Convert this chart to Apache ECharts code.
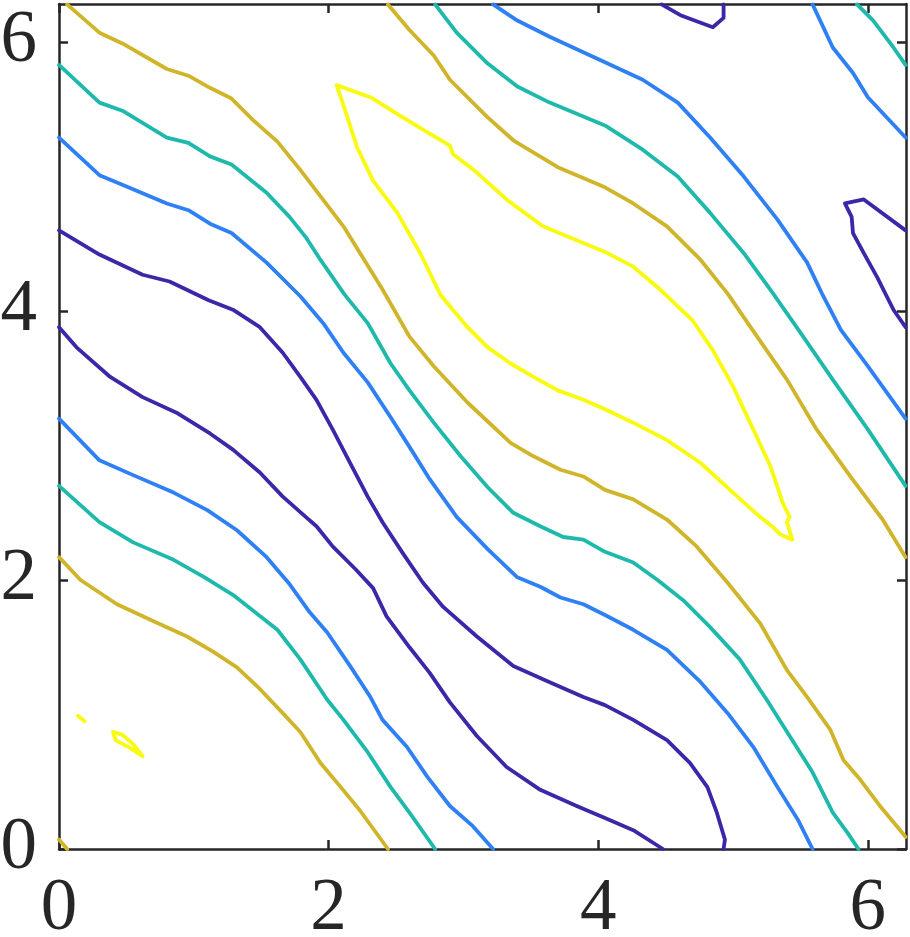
<!DOCTYPE html>
<html>
<head>
<meta charset="utf-8">
<script src="https://cdn.jsdelivr.net/npm/echarts@6/dist/echarts.min.js"></script>
<style>html,body{margin:0;padding:0;background:#fff;}#c{width:910px;height:937px;}</style>
</head>
<body>
<div id="c"></div>
<script>
// Axis ticks
var xTicks = [0, 2, 4, 6];
var yTicks = [0, 2, 4, 6];
var axisMax = 2 * Math.PI;

// Contour level colours (parula, low -> high)
var cLow = '#3d26a8', cBlue = '#2e80f4', cTeal = '#1fb9ac', cGold = '#d0b52b', cYellow = '#f9fb0e';

// Gold level
var gold1 = [[0.06,6.28],[0.30,6.07],[0.47,5.99],[0.80,5.80],[0.96,5.75],[1.12,5.66],[1.28,5.58],[1.44,5.42],[1.62,5.26],[1.79,5.05],[2.11,4.63],[2.40,4.16],[2.60,3.81],[2.78,3.59],[3.03,3.32],[3.35,3.02],[3.52,2.92],[3.72,2.82],[3.89,2.77],[4.05,2.67],[4.26,2.60],[4.51,2.45],[4.73,2.25],[4.96,1.98],[5.20,1.68],[5.40,1.33],[5.55,1.13],[5.72,0.89],[5.82,0.66],[5.94,0.52],[6.09,0.32],[6.24,0.14],[6.28,0.09]];
var gold1b = [[0,0.07],[0.06,0]];
var gold2 = [[2.44,6.28],[2.60,6.09],[2.78,5.90],[2.90,5.72],[3.18,5.44],[3.37,5.27],[3.70,5.07],[4.05,4.92],[4.26,4.80],[4.51,4.63],[4.76,4.38],[4.96,4.13],[5.13,3.88],[5.40,3.49],[5.62,3.12],[5.87,2.77],[6.11,2.45],[6.28,2.17]];
var gold3 = [[0,2.17],[0.16,2.00],[0.43,1.82],[0.73,1.68],[0.95,1.58],[1.14,1.47],[1.32,1.35],[1.49,1.19],[1.66,1.01],[1.79,0.87],[1.94,0.64],[2.09,0.46],[2.23,0.29],[2.44,0]];

// Teal level
var teal1 = [[0,5.83],[0.30,5.55],[0.47,5.49],[0.80,5.29],[0.96,5.25],[1.12,5.15],[1.28,5.09],[1.54,4.88],[1.71,4.70],[1.83,4.55],[1.94,4.38],[2.12,4.12],[2.29,3.91],[2.46,3.61],[2.60,3.41],[2.78,3.17],[2.98,2.92],[3.18,2.69],[3.37,2.50],[3.57,2.40],[3.74,2.32],[3.89,2.30],[4.05,2.21],[4.26,2.13],[4.44,2.00],[4.63,1.85],[4.83,1.65],[5.05,1.41],[5.25,1.11],[5.42,0.84],[5.59,0.57],[5.74,0.27],[5.85,0.12],[5.93,0]];
var teal1b = [[5.92,6.28],[6.04,6.16],[6.19,5.96],[6.28,5.83]];
var teal2 = [[2.79,6.28],[2.95,6.07],[3.18,5.84],[3.40,5.67],[3.64,5.55],[4.05,5.38],[4.33,5.20],[4.59,5.00],[4.83,4.73],[5.08,4.43],[5.29,4.14],[5.50,3.84],[5.74,3.49],[6.00,3.12],[6.28,2.70]];
var teal3 = [[0,2.70],[0.30,2.43],[0.55,2.28],[0.85,2.15],[1.08,2.02],[1.29,1.89],[1.62,1.63],[1.79,1.41],[1.99,1.11],[2.11,0.96],[2.29,0.72],[2.46,0.46],[2.60,0.27],[2.79,0]];

// Blue level
var blue1 = [[0,5.29],[0.30,5.01],[0.47,4.94],[0.80,4.80],[0.96,4.75],[1.12,4.65],[1.28,4.58],[1.54,4.36],[1.79,4.11],[1.96,3.91],[2.11,3.69],[2.29,3.47],[2.46,3.21],[2.60,2.99],[2.75,2.75],[2.95,2.47],[3.18,2.23],[3.40,2.02],[3.57,1.95],[3.72,1.87],[3.89,1.82],[4.05,1.74],[4.26,1.63],[4.51,1.48],[4.76,1.24],[4.96,1.01],[5.15,0.76],[5.33,0.46],[5.48,0.22],[5.59,0]];
var blue1b = [[5.59,6.28],[5.74,5.96],[5.89,5.77],[6.00,5.59],[6.28,5.29]];
var blue2 = [[3.22,6.28],[3.40,6.16],[3.64,6.04],[4.05,5.85],[4.33,5.72],[4.59,5.55],[4.83,5.29],[5.08,5.00],[5.33,4.68],[5.55,4.36],[5.66,4.13],[5.80,3.86],[6.00,3.59],[6.28,3.20]];
var blue3 = [[0,3.20],[0.30,2.89],[0.55,2.78],[0.85,2.65],[1.10,2.52],[1.32,2.37],[1.54,2.17],[1.71,1.97],[1.86,1.76],[1.99,1.61],[2.16,1.36],[2.31,1.13],[2.40,0.96],[2.58,0.76],[2.73,0.54],[2.90,0.32],[3.07,0.17],[3.22,0]];

// Lowest level
var low1 = [[0,4.60],[0.30,4.42],[0.62,4.27],[0.82,4.22],[1.11,4.08],[1.29,4.01],[1.49,3.88],[1.66,3.69],[1.79,3.51],[1.91,3.34],[2.03,3.12],[2.16,2.87],[2.29,2.62],[2.40,2.43],[2.55,2.20],[2.70,1.98],[2.85,1.80],[3.10,1.58],[3.37,1.36],[3.64,1.24],[3.89,1.13],[4.05,1.07],[4.26,0.96],[4.51,0.81],[4.68,0.64],[4.81,0.46],[4.88,0.27],[4.94,0.07],[4.93,0]];
var low1b = [[4.47,6.28],[4.61,6.20],[4.85,6.11],[4.93,6.18],[4.93,6.28]];
var low2 = [[0,3.88],[0.13,3.73],[0.38,3.51],[0.62,3.36],[0.88,3.24],[1.12,3.09],[1.29,2.97],[1.49,2.80],[1.66,2.62],[1.83,2.47],[1.91,2.40],[2.03,2.25],[2.20,2.08],[2.33,1.94],[2.43,1.73],[2.60,1.50],[2.75,1.31],[2.90,1.09],[3.10,0.84],[3.32,0.61],[3.57,0.44],[3.84,0.32],[4.05,0.23],[4.26,0.14],[4.48,0]];
var low3 = [[6.28,4.60],[5.97,4.83],[5.83,4.80],[5.88,4.70],[5.89,4.58],[5.97,4.43],[6.07,4.25],[6.14,4.11],[6.19,4.01],[6.28,3.88]];

// Highest level
var yel1 = [[2.06,5.68],[2.31,5.59],[2.55,5.44],[2.75,5.32],[2.90,5.23],[2.92,5.17],[3.10,5.03],[3.32,4.83],[3.59,4.63],[4.05,4.44],[4.26,4.33],[4.46,4.16],[4.70,3.93],[4.85,3.71],[5.00,3.44],[5.15,3.12],[5.28,2.84],[5.37,2.57],[5.42,2.47],[5.40,2.43],[5.44,2.30],[5.35,2.34],[5.30,2.39],[5.20,2.47],[5.00,2.65],[4.76,2.87],[4.51,3.04],[4.26,3.17],[4.05,3.27],[3.89,3.34],[3.70,3.41],[3.52,3.51],[3.35,3.61],[3.18,3.73],[3.03,3.88],[2.88,4.06],[2.83,4.12],[2.68,4.43],[2.51,4.73],[2.33,4.97],[2.21,5.22],[2.14,5.44],[2.09,5.59],[2.06,5.68]];
var yel2 = [[0.14,0.99],[0.19,0.95]];
var yel3 = [[0.40,0.87],[0.47,0.85],[0.55,0.78],[0.62,0.69],[0.53,0.75],[0.42,0.81],[0.40,0.87]];

var curves = [
  [low1, cLow], [low1b, cLow], [low2, cLow], [low3, cLow],
  [blue1, cBlue], [blue1b, cBlue], [blue2, cBlue], [blue3, cBlue],
  [teal1, cTeal], [teal1b, cTeal], [teal2, cTeal], [teal3, cTeal],
  [gold1, cGold], [gold1b, cGold], [gold2, cGold], [gold3, cGold],
  [yel1, cYellow], [yel2, cYellow], [yel3, cYellow]
];

var axisColor = '#262626';
var serifFont = 'Liberation Serif';

function axisBase(pos, ticks) {
  return {
    type: 'value', position: pos, min: 0, max: axisMax,
    axisLine: { show: true, onZero: false, lineStyle: { color: axisColor, width: 2.5 } },
    axisTick: { show: true, inside: true, length: 9, lineStyle: { color: axisColor, width: 2.5 }, customValues: ticks },
    axisLabel: { show: false },
    splitLine: { show: false }
  };
}

var xMain = axisBase('bottom', xTicks);
xMain.axisLabel = {
  show: true, customValues: xTicks, margin: 36,
  fontFamily: serifFont, fontSize: 73, lineHeight: 50, color: axisColor
};
var yMain = axisBase('left', yTicks);
yMain.axisLabel = {
  show: true, customValues: yTicks, margin: 22,
  fontFamily: serifFont, fontSize: 73, lineHeight: 50, color: axisColor,
  padding: [0, 0, 12, 0]
};

var series = curves.map(function (c) {
  return {
    type: 'line', data: c[0], xAxisIndex: 0, yAxisIndex: 0,
    showSymbol: false, symbol: 'none', smooth: false, clip: true,
    lineStyle: { color: c[1], width: 3.8, join: 'round', cap: 'round' },
    itemStyle: { color: c[1] },
    emphasis: { disabled: true }, silent: true, z: 1
  };
});

var chart = echarts.init(document.getElementById('c'), null, { renderer: 'canvas' });
chart.setOption({
  animation: false,
  backgroundColor: '#ffffff',
  textStyle: { fontFamily: serifFont },
  grid: { left: 59, top: 4, width: 847, height: 845, containLabel: false, outerBoundsMode: 'none' },
  xAxis: [xMain, axisBase('top', xTicks)],
  yAxis: [yMain, axisBase('right', yTicks)],
  series: series
});
</script>
</body>
</html>
